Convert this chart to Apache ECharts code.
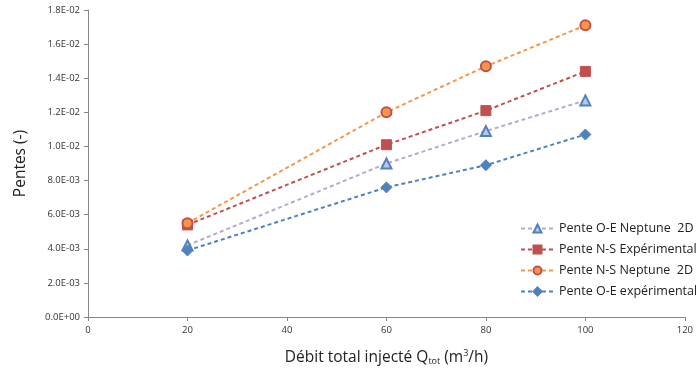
<!DOCTYPE html>
<html><head><meta charset="utf-8">
<script src="https://cdn.jsdelivr.net/npm/echarts@6/dist/echarts.min.js"></script>
<style>html,body{margin:0;padding:0;background:#fff}#c{width:696px;height:371px}</style>
</head><body><div id="c"></div>
<script>
const xValues = [20, 60, 80, 100];
const oeNeptune = [0.0042, 0.0090, 0.0109, 0.0127];
const nsExp = [0.0054, 0.0101, 0.0121, 0.0144];
const nsNeptune = [0.0055, 0.0120, 0.0147, 0.0171];
const oeExp = [0.0039, 0.0076, 0.0089, 0.0107];
const seriesNames = ['Pente O-E Neptune  2D', 'Pente N-S Expérimentale', 'Pente N-S Neptune  2D', 'Pente O-E expérimentale'];

function pair(ys){ return xValues.map((x,i)=>[x, ys[i]]); }
function fmtExp(v){
  let s = v.toExponential(1).toUpperCase();
  const m = s.match(/^(.*)E([+-])(\d+)$/);
  let d = m[3]; if (d.length < 2) d = '0' + d;
  return m[1] + 'E' + m[2] + d;
}
const font = '"Open Sans", Lato, sans-serif';
const chart = echarts.init(document.getElementById('c'));
chart.setOption({
  animation: false,
  textStyle: {fontFamily: font},
  grid: {left: 88, right: 10, top: 10, bottom: 54, containLabel: false},
  xAxis: {
    type: 'value', min: 0, max: 120, interval: 20,
    axisLine: {lineStyle: {color: '#868686', width: 1}},
    axisTick: {show: true, length: 4, lineStyle: {color: '#868686'}},
    splitLine: {show: false},
    axisLabel: {color: '#333', fontSize: 9.5, margin: 8, fontFamily: font},
    name: '{a|Débit total injecté Q}{s|tot}{a| (m}{p|3}{a|/h)}',
    nameLocation: 'middle', nameGap: 32,
    nameTextStyle: {
      rich: {
        a: {fontSize: 15.5, color: '#222', fontFamily: font},
        s: {fontSize: 9, color: '#222', fontFamily: font, verticalAlign: 'bottom', padding: [8,0,0,0]},
        p: {fontSize: 9, color: '#222', fontFamily: font, verticalAlign: 'top', padding: [0,0,8,0]}
      }
    }
  },
  yAxis: {
    type: 'value', min: 0, max: 0.018, interval: 0.002,
    axisLine: {show: true, lineStyle: {color: '#868686', width: 1}},
    axisTick: {show: true, length: 4, lineStyle: {color: '#868686'}},
    splitLine: {show: false},
    axisLabel: {color: '#333', fontSize: 9.5, margin: 8, formatter: fmtExp, fontFamily: font},
    name: 'Pentes (-)', nameLocation: 'middle', nameGap: 59, nameRotate: 90,
    nameTextStyle: {fontSize: 15.5, color: '#222', fontFamily: font}
  },
  legend: {
    orient: 'vertical', left: 515, top: 217, itemGap: 8,
    itemWidth: 33, itemHeight: 10,
    textStyle: {fontSize: 12.5, color: '#222', fontFamily: font},
    data: seriesNames
  },
  series: [
    {name: seriesNames[0], type: 'line', data: pair(oeNeptune), symbol: 'triangle', symbolSize: 10,
     lineStyle: {color: '#B9A9D2', type: [4,3], width: 2},
     itemStyle: {color: '#B9C7E3', borderColor: '#4F81BD', borderWidth: 2}},
    {name: seriesNames[1], type: 'line', data: pair(nsExp), symbol: 'rect', symbolSize: 10,
     lineStyle: {color: '#C0504D', type: [4,3], width: 2},
     itemStyle: {color: '#C0504D', borderColor: '#C0504D', borderWidth: 1}},
    {name: seriesNames[2], type: 'line', data: pair(nsNeptune), symbol: 'circle', symbolSize: 10,
     lineStyle: {color: '#F79646', type: [4,3], width: 2},
     itemStyle: {color: '#F79646', borderColor: '#C0504D', borderWidth: 2}},
    {name: seriesNames[3], type: 'line', data: pair(oeExp), symbol: 'diamond', symbolSize: 11,
     lineStyle: {color: '#4F81BD', type: [4,3], width: 2},
     itemStyle: {color: '#4F81BD', borderColor: '#4F81BD', borderWidth: 1}}
  ]
});
</script></body></html>
